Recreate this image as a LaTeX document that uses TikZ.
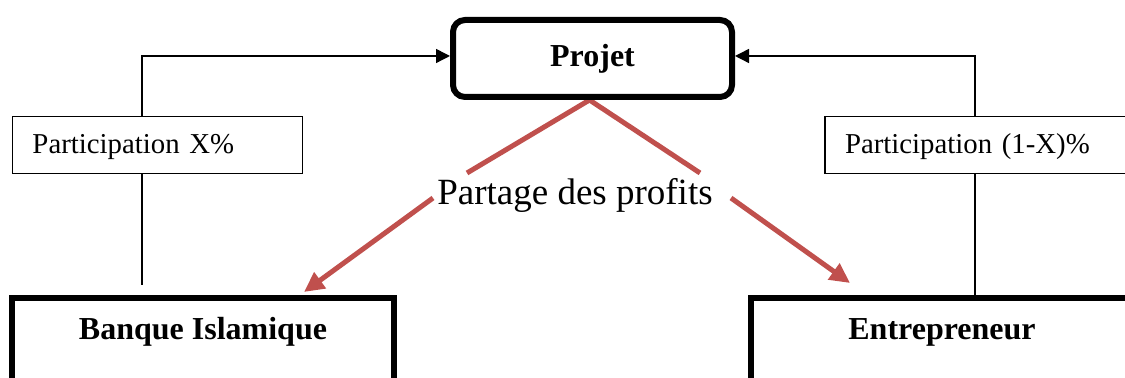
\documentclass[tikz,border=0pt]{standalone}
\usepackage{fontspec}
\setmainfont{Liberation Serif}
\usetikzlibrary{arrows.meta,backgrounds}
\definecolor{profitred}{HTML}{C0504D}
\begin{document}
\begin{tikzpicture}[x=0.5pt,y=-0.5pt,
  partbox/.style={draw, line width=0.7pt, fill=white, inner xsep=10pt, inner ysep=0pt,
    minimum height=28.5pt, text depth=1.1pt, align=left, font=\fontsize{14.4pt}{17pt}\selectfont},
  projbox/.style={draw, line width=3pt, rounded corners=6pt, fill=white, inner sep=0pt,
    minimum width=139.5pt, minimum height=38.5pt, font=\fontsize{16pt}{19pt}\selectfont\bfseries},
  actorbox/.style={draw, line width=3pt, fill=white, anchor=north, inner sep=0pt,
    minimum width=191pt, text height=21pt, text depth=60pt,
    font=\fontsize{16pt}{19pt}\selectfont\bfseries},
  conn/.style={line width=0.7pt},
  connarrow/.style={conn, -{Triangle[length=7pt,width=7pt]}},
  profit/.style={draw=profitred, line width=2.5pt},
  profitarrow/.style={profit, -{Triangle[length=10pt,width=9.5pt]}}
]
\useasboundingbox (0,0) rectangle (1125,378);

\node[projbox] (projet) at (592.5,58.5) {Projet};
\node[partbox, text width=125pt] (px1) at (157.5,145) {Participation X\%};
\node[partbox, text width=135pt] (px2) at (980,145) {Participation (1-X)\%};
\node[actorbox] (banque) at (203,295) {Banque Islamique};
\node[actorbox] (entre) at (942,295) {Entrepreneur};
\node[font=\fontsize{18.5pt}{22pt}\selectfont, inner sep=0pt, anchor=base] (partage) at (575,205) {Partage des profits};

\coordinate (lx) at (142,56);
\coordinate (lb) at (142,285);
\coordinate (rx) at (975,56);

\draw[connarrow] (px1.north -| lx) |- (projet.west |- lx);
\draw[conn] (px1.south -| lb) -- (lb);
\draw[connarrow] (px2.north -| rx) |- (projet.east |- rx);
\draw[conn] (px2.south -| rx) -- (entre.north -| rx);

\coordinate (apex) at ([xshift=-1.5pt]projet.south);
\coordinate (a1) at (467,173);
\coordinate (a2) at (433,198);
\coordinate (b1) at (700,173);
\coordinate (b2) at (731,198);
\coordinate (bt) at (304,292);
\coordinate (et) at (850,283);

\begin{pgfonlayer}{background}
\draw[profit] (apex) -- (a1);
\draw[profit] (apex) -- (b1);
\end{pgfonlayer}
\draw[profitarrow] (a2) -- (bt);
\draw[profitarrow] (b2) -- (et);
\end{tikzpicture}
\end{document}
